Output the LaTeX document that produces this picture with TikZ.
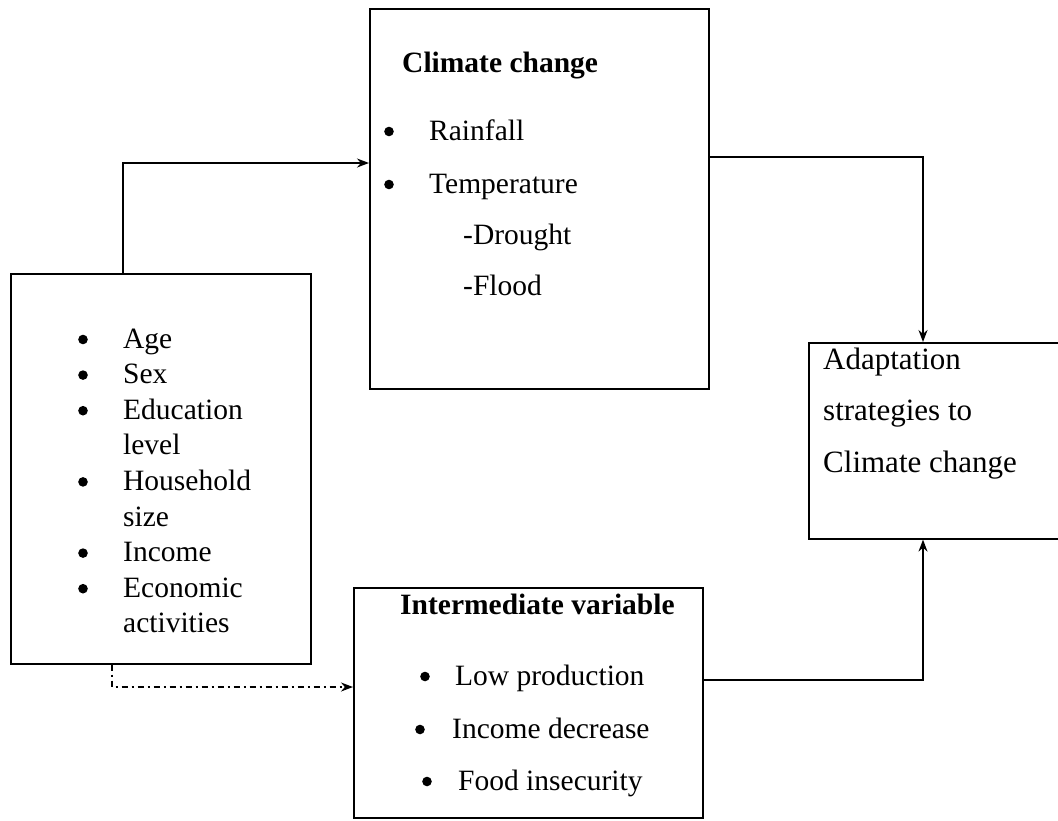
\documentclass[tikz,border=0pt]{standalone}
\usepackage{fontspec}
\setmainfont{Liberation Serif}
\usetikzlibrary{arrows.meta,positioning}

\tikzset{
  box/.style={draw, line width=1.6pt, anchor=north west, inner sep=0pt},
  txt/.style={anchor=base west, inner sep=0pt, font=\fontsize{29.5}{35}\selectfont},
  head/.style={txt, font=\fontsize{29.5}{35}\selectfont\bfseries},
  link/.style={line width=1.6pt, -{Stealth[length=12pt,width=9pt]}},
}
% bullet in front of a list entry, #1 = gap to the text
\newcommand{\listdot}[2][40pt]{\fill ([xshift=-#1,yshift=8.5pt]#2.base west) circle (4.8pt);}

\begin{document}
\begin{tikzpicture}[x=1pt,y=-1pt]
\useasboundingbox (0,0) rectangle (1058,820);
% the four boxes
\node[box, minimum width=339pt, minimum height=380pt] (climate) at (369,8) {};
\node[box, minimum width=300pt, minimum height=390pt] (factors) at (10,273) {};
\node[box, minimum width=349pt, minimum height=230pt] (inter) at (353,587) {};
\node[box, minimum width=260pt, minimum height=196pt] (adapt) at (808,342) {};
% climate change
\node[head] (cchead) at (402,72) {Climate change};
\node[txt] (rain) at (429,140) {Rainfall};
\node[txt] (temp) at (429,193) {Temperature};
\node[txt] (drought) at (463,244) {-Drought};
\node[txt] (flood) at (463,295) {-Flood};
\listdot{rain}
\listdot{temp}
% household factors
\foreach \t/\b [count=\i from 0] in {Age/1,Sex/1,Education/1,level/0,Household/1,size/0,Income/1,Economic/1,activities/0} {
  \node[txt] (fac\i) at (123,{348+35.6*\i}) {\t};
  \ifnum\b=1 \listdot{fac\i}\fi
}
% intermediate variable
\node[head] (ivhead) at (400,614) {Intermediate variable};
\node[txt] (lowprod) at (455,685) {Low production};
\node[txt] (incdec) at (452,738) {Income decrease};
\node[txt] (food) at (458,790) {Food insecurity};
\listdot[30pt]{lowprod}
\listdot[32pt]{incdec}
\listdot[31pt]{food}
% adaptation
\node[txt, font=\fontsize{31}{35}\selectfont] (ad1) at (823,369) {Adaptation};
\node[txt, font=\fontsize{31}{35}\selectfont] (ad2) at (823,420) {strategies to};
\node[txt, font=\fontsize{31}{35}\selectfont] (ad3) at (823,472) {Climate change};
% links
\draw[link] ([xshift=113pt]factors.north west) |- ([yshift=-155pt]climate.north west);
\draw[link] ([yshift=-149pt]climate.north east) -| ([xshift=115pt]adapt.north west);
\draw[link] ([yshift=-93pt]inter.north east) -| ([xshift=115pt]adapt.south west);
\draw[link, dash pattern=on 6pt off 4pt on 2pt off 4pt] ([xshift=102pt]factors.south west) |- ([yshift=-100pt]inter.north west);
\end{tikzpicture}
\end{document}
